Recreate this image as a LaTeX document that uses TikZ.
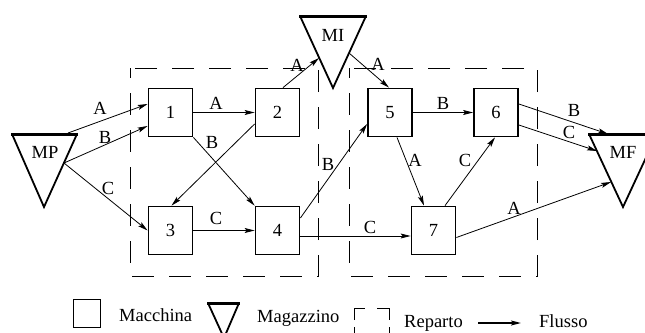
\documentclass[tikz,border=0pt]{standalone}
\usepackage{fontspec}
\setmainfont{Liberation Serif}
\usetikzlibrary{arrows.meta}
\begin{document}
\begin{tikzpicture}[x=1pt,y=-1pt,
  box/.style={draw,line width=1.8pt,minimum width=44pt,minimum height=48pt,inner sep=0pt,font=\fontsize{18.5}{20}\selectfont},
  lbl/.style={inner sep=0pt,font=\fontsize{18.5}{20}\selectfont},
  flow/.style={line width=0.8pt,-{Stealth[length=10pt,width=5pt,inset=2pt]}},
  rep/.style={dash pattern=on 22pt off 15pt,dash phase=12pt,line width=0.8pt},
  tri/.style={line width=1.8pt},
  tritop/.style={line width=3pt}]
\useasboundingbox (0,0) rectangle (645,332);
\clip (0,0) rectangle (645,332);

% departments
\draw[rep] (130,68) rectangle (318,276);
\draw[rep] (349,68) rectangle (537,276);

% machines
\node[box] (n1) at (170.5,112.5) {1};
\node[box] (n2) at (277.5,112.5) {2};
\node[box] (n3) at (170.5,230.5) {3};
\node[box] (n4) at (277.5,230.5) {4};
\node[box] (n5) at (390,112.5) {5};
\node[box] (n6) at (496,112.5) {6};
\node[box] (n7) at (433.5,230.5) {7};

% warehouses
\draw[tri] (12,134) -- (44,207) -- (77,134);
\draw[tritop] (11,134) -- (78,134);
\node[lbl] (MP) at (45,152) {MP};
\draw[tri] (300,16) -- (333,88) -- (366,16);
\draw[tritop] (299,16) -- (367,16);
\node[lbl] (MI) at (333,35) {MI};
\draw[tri] (589,134) -- (623,207) -- (657,134);
\draw[tritop] (588,134) -- (658,134);
\node[lbl] (MF) at (623,152) {MF};

% connector ends on warehouses
\coordinate (mpa) at (68,133);
\coordinate (mpb) at (64,163);
\coordinate (mil) at (319,58);
\coordinate (mir) at (349,53);
\coordinate (mfb) at (608,134);
\coordinate (mfc) at (597,151);
\coordinate (mfa) at (611,182);

% flows
\draw[flow] (mpa) -- ([yshift=8.5pt]n1.west);
\draw[flow] (mpb) -- ([yshift=-13.5pt]n1.west);
\draw[flow] (mpb) -- (n3.west);
\draw[flow] (n1.east) -- (n2.west);
\draw[flow] (n1.south east) -- (n4.north west);
\draw[flow] ([yshift=-11.5pt]n2.west) -- ([xshift=1pt]n3.north);
\draw[flow] ([xshift=5.5pt]n2.north) -- (mil);
\draw[flow] (mir) -- ([xshift=-1pt]n5.north);
\draw[flow] (n3.east) -- (n4.west);
\draw[flow] ([yshift=12.5pt]n4.east) -- ([yshift=-11.5pt]n5.west);
\draw[flow] ([yshift=-5.5pt]n4.east) -- ([yshift=-5.5pt]n7.west);
\draw[flow] (n5.east) -- (n6.west);
\draw[flow] ([xshift=7pt]n5.south) -- ([xshift=-9.5pt]n7.north);
\draw[flow] ([xshift=11.5pt]n7.north) -- ([xshift=-1pt]n6.south);
\draw[flow] ([yshift=8.5pt]n6.east) -- (mfb);
\draw[flow] ([yshift=-12.5pt]n6.east) -- (mfc);
\draw[flow] ([yshift=-7pt]n7.east) -- (mfa);

% flow labels
\node[lbl] (l1) at (100,108) {A};
\node[lbl] (l2) at (105,137) {B};
\node[lbl] (l3) at (108,188) {C};
\node[lbl] (l4) at (216,103) {A};
\node[lbl] (l5) at (212,142) {B};
\node[lbl] (l6) at (297,65) {A};
\node[lbl] (l7) at (378,64) {A};
\node[lbl] (l8) at (216,218) {C};
\node[lbl] (l9) at (328,164) {B};
\node[lbl] (l10) at (370,227) {C};
\node[lbl] (l11) at (443,103) {B};
\node[lbl] (l12) at (415,160) {A};
\node[lbl] (l13) at (465,160) {C};
\node[lbl] (l14) at (574,110) {B};
\node[lbl] (l15) at (569,132) {C};
\node[lbl] (l16) at (514,208) {A};

% legend
\node[draw,line width=1.6pt,minimum width=27pt,minimum height=28pt,inner sep=0pt] (lm) at (87,313.5) {};
\node[lbl,anchor=base west] (lmt) at (119,321) {Macchina};
\draw[tri] (208,303) -- (224,338) -- (239,303);
\draw[tritop] (207,303) -- (240,303);
\node[lbl,anchor=base west] (lzt) at (257,322) {Magazzino};
\draw[line width=0.8pt] (354,320) -- (354,308) -- (365,308);
\draw[line width=0.8pt] (377,308) -- (389,308) -- (389,320);
\draw[line width=0.8pt] (354,327) -- (354,340);
\draw[line width=0.8pt] (389,327) -- (389,340);
\node[lbl,anchor=base west] (lrt) at (404,327.5) {Reparto};
\coordinate (fa) at (478,323);
\coordinate (fb) at (521,323);
\draw[line width=1.6pt,-{Stealth[length=10pt,width=5pt,inset=2pt]}] (fa) -- (fb);
\node[lbl,anchor=base west] (lft) at (539,327.5) {Flusso};
\end{tikzpicture}
\end{document}
